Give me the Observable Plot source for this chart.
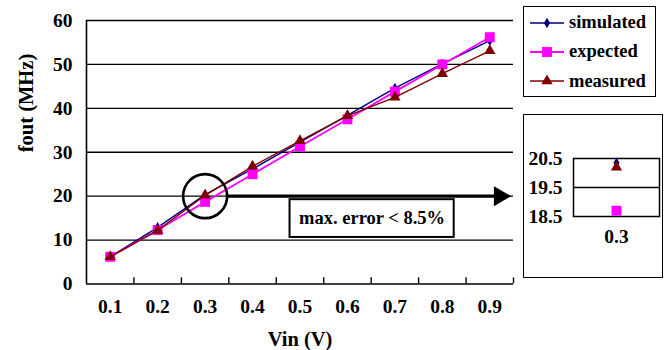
<!DOCTYPE html>
<html><head><meta charset="utf-8">
<script src="https://cdn.jsdelivr.net/npm/d3@7"></script>
<script src="https://cdn.jsdelivr.net/npm/@observablehq/plot@0.6"></script>
<style>
html,body{margin:0;padding:0;background:#fff;}
#wrap{position:relative;width:669px;height:350px;font-family:"Liberation Serif","Tinos","Times New Roman","DejaVu Serif",serif;font-weight:bold;font-size:18.5px;}
#wrap svg.layer{position:absolute;left:0;top:0;}
.box{position:absolute;border:1.5px solid #000;box-sizing:border-box;}
.lrow{position:absolute;display:flex;align-items:center;height:24px;white-space:nowrap;}
.lrow svg{display:block;margin-right:5px;}
</style></head><body><div id="wrap"></div>
<script>
// ---- data ----
const vin = [0.1, 0.2, 0.3, 0.4, 0.5, 0.6, 0.7, 0.8, 0.9];
const xTickLabels = ["0.1", "0.2", "0.3", "0.4", "0.5", "0.6", "0.7", "0.8", "0.9"];
const simulated = [6.2, 12.9, 20.35, 26.2, 32.3, 38.4, 44.6, 50.1, 55.4];
const expected  = [6.2, 12.3, 18.7, 25.0, 31.3, 37.5, 43.8, 50.0, 56.2];
const measured  = [6.2, 12.2, 20.2, 26.8, 32.6, 38.3, 42.5, 47.9, 53.1];
const seriesNames = ["simulated", "expected", "measured"];
const yTicks = [0, 10, 20, 30, 40, 50, 60];
const insetCategory = 0.3;
const insetYTicks = [18.5, 19.5, 20.5];
const noteText = "max. error < 8.5%";
const axisLabelX = "Vin (V)";
const axisLabelY = "fout (MHz)";

// ---- styling ----
const colors = {simulated: "#000080", expected: "#FF00FF", measured: "#800000"};
const symbols = {simulated: "diamond", expected: "square", measured: "triangle"};
const radii = {simulated: 3.2, expected: 5.6, measured: 4.2};
const widths = {simulated: 1.4, expected: 1.8, measured: 1.4};
const font = '"Liberation Serif","Tinos","Times New Roman","DejaVu Serif",serif';
const W = 669, H = 350;

const valuesOf = {simulated, expected, measured};
const series = seriesNames.map(name => ({
  name, color: colors[name], symbol: symbols[name], r: radii[name], w: widths[name],
  rows: vin.map((v, i) => ({vin: v, value: valuesOf[name][i]}))
}));

const step = vin[1] - vin[0];
const xDomain = [vin[0] - step / 2, vin[vin.length - 1] + step / 2];
const bounds = vin.map(v => v + step / 2);

// annotation anchors (data coordinates)
const callout = {x: insetCategory, y: 20};
const arrow = {x1: 0.345, x2: 0.945, y: 20};
const noteBox = {x1: 0.479, x2: 0.825, y1: 10.6, y2: 19.2};

const seriesMarks = [];
for (const s of series) {
  seriesMarks.push(Plot.line(s.rows, {x: "vin", y: "value", stroke: s.color, strokeWidth: s.w}));
  seriesMarks.push(Plot.dot(s.rows, {x: "vin", y: "value", symbol: s.symbol, r: s.r, fill: s.color, stroke: "none"}));
}

const main = Plot.plot({
  width: W, height: H,
  marginLeft: 86, marginRight: 156, marginTop: 20, marginBottom: 66.5,
  style: {fontFamily: font, fontWeight: "bold", fontSize: "18.5px", background: "transparent", overflow: "visible"},
  x: {type: "linear", domain: xDomain},
  y: {domain: [0, 60]},
  marks: [
    Plot.ruleY(yTicks.filter(d => d > 0), {stroke: "#000", strokeWidth: 1.4}),
    Plot.ruleY([0], {stroke: "#000", strokeWidth: 1.6}),
    Plot.ruleX([xDomain[0]], {stroke: "#000", strokeWidth: 1.6}),
    Plot.ruleX(bounds, {y1: 0, y2: 1.4, stroke: "#000", strokeWidth: 1.4}),
    Plot.axisY({ticks: yTicks, tickSize: 0, tickPadding: 14, label: null, fontSize: 19.5}),
    Plot.axisX({ticks: vin, tickSize: 0, tickPadding: 15, label: null, fontSize: 19.5,
      tickFormat: d => xTickLabels[vin.findIndex(v => Math.abs(v - d) < 1e-9)] ?? d3.format(".1f")(d)}),
    ...seriesMarks,
    Plot.dot([callout], {x: "x", y: "y", r: 22, stroke: "#000", strokeWidth: 2.6, fill: "none"}),
    Plot.ruleY([arrow], {y: "y", x1: "x1", x2: "x2", stroke: "#000", strokeWidth: 3.2, insetRight: 8}),
    Plot.dot([arrow], {x: "x2", y: "y", symbol: "triangle", rotate: 90, r: 7.4, fill: "#000", stroke: "none", dx: -11.5}),
    Plot.rect([noteBox], {x1: "x1", x2: "x2", y1: "y1", y2: "y2", fill: "#fff", stroke: "#000", strokeWidth: 2}),
    Plot.text([noteText], {x: (noteBox.x1 + noteBox.x2) / 2, y: (noteBox.y1 + noteBox.y2) / 2, text: d => d, lineAnchor: "middle", fontSize: 18.5}),
    Plot.text([axisLabelX], {frameAnchor: "bottom", dy: 55, text: d => d, lineAnchor: "middle", fontSize: 20.5}),
    Plot.text([axisLabelY], {frameAnchor: "left", dx: -60, rotate: -90, text: d => d, lineAnchor: "middle", fontSize: 20.5})
  ]
});
main.classList.add("layer");

const ci = vin.indexOf(insetCategory);
const insetLabel = xTickLabels[ci];
const insetMarks = series.map(s => Plot.dot([{cat: insetLabel, value: valuesOf[s.name][ci]}],
  {x: "cat", y: "value", symbol: s.symbol, r: s.r, fill: s.color, stroke: "none"}));

const inset = Plot.plot({
  width: W, height: H,
  marginLeft: 573, marginRight: 10, marginTop: 158, marginBottom: 134,
  style: {fontFamily: font, fontWeight: "bold", fontSize: "19.5px", background: "transparent", overflow: "visible"},
  x: {type: "band", domain: [insetLabel]},
  y: {domain: [insetYTicks[0], insetYTicks[insetYTicks.length - 1]]},
  marks: [
    Plot.ruleY(insetYTicks.slice(1, -1), {stroke: "#000", strokeWidth: 1.4}),
    Plot.frame({stroke: "#000", strokeWidth: 1.5}),
    Plot.axisY({ticks: insetYTicks, tickSize: 0, tickPadding: 11, label: null, tickFormat: d3.format(".1f")}),
    Plot.axisX({tickSize: 0, tickPadding: 13, label: null}),
    ...insetMarks
  ]
});
inset.classList.add("layer");

const wrap = document.getElementById("wrap");
wrap.appendChild(main);

const insetBox = document.createElement("div");
insetBox.className = "box";
Object.assign(insetBox.style, {left: "523px", top: "114px", width: "140px", height: "164px"});
wrap.appendChild(insetBox);
wrap.appendChild(inset);

// legend
const legBox = document.createElement("div");
legBox.className = "box";
Object.assign(legBox.style, {left: "523px", top: "6px", width: "133px", height: "91px", background: "#fff"});
wrap.appendChild(legBox);
const legendRowCenters = [22.7, 51.7, 81];
series.forEach((s, i) => {
  const row = document.createElement("div");
  row.className = "lrow";
  row.style.left = "530px";
  row.style.top = (legendRowCenters[i] - 12) + "px";
  const svg = d3.create("svg").attr("width", 34).attr("height", 16);
  svg.append("line").attr("x1", 0).attr("x2", 34).attr("y1", 8).attr("y2", 8)
    .attr("stroke", s.color).attr("stroke-width", s.w);
  svg.append("path").attr("transform", "translate(17,8)")
    .attr("d", d3.symbol(s.symbol === "diamond" ? d3.symbolDiamond : s.symbol === "square" ? d3.symbolSquare : d3.symbolTriangle, Math.PI * s.r * s.r)())
    .attr("fill", s.color);
  row.appendChild(svg.node());
  const t = document.createElement("span");
  t.textContent = s.name;
  row.appendChild(t);
  wrap.appendChild(row);
});
</script></body></html>
